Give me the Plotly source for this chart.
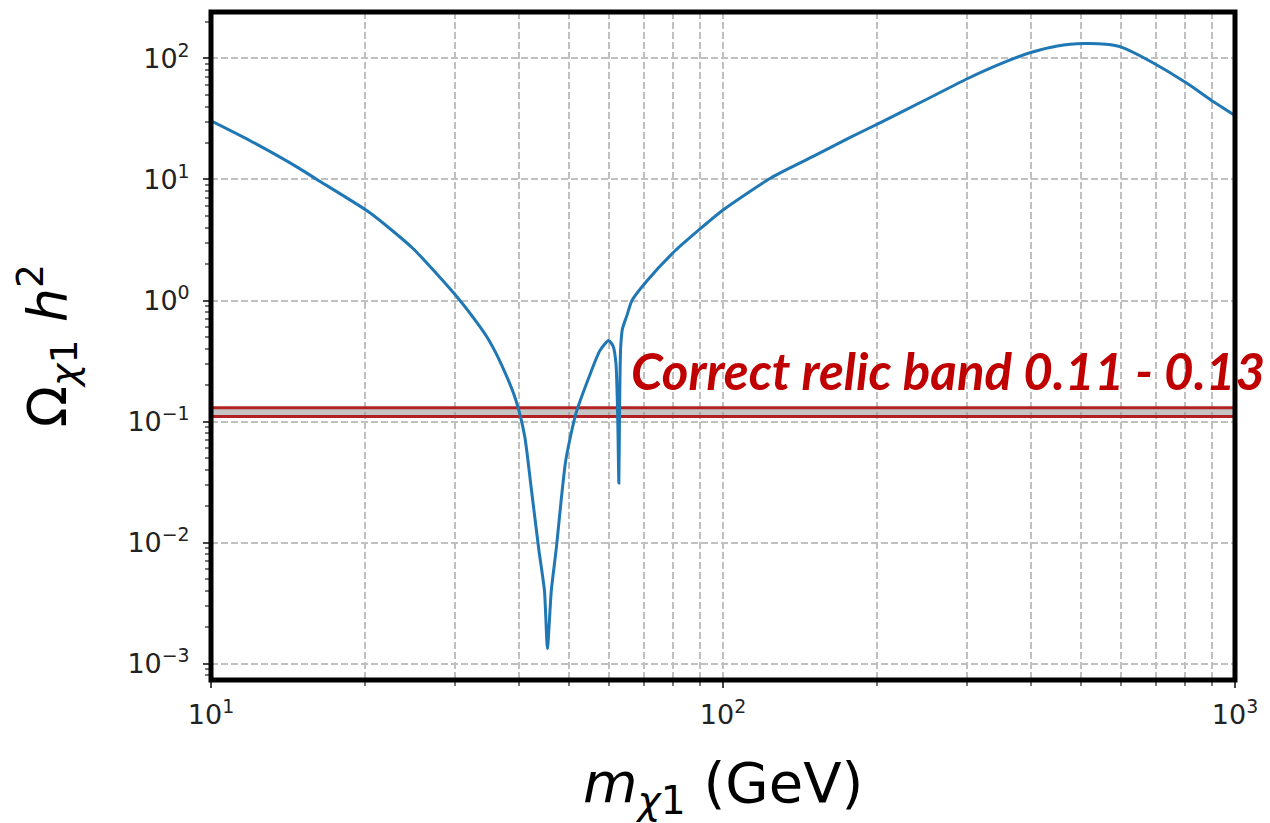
import plotly.graph_objects as go

# ---- data ----
mass_gev = [10, 11.9, 14.9, 16.1, 20.4, 24.8, 30.3, 33.4, 34.9, 37.0, 39.4, 41.0, 42.2,
            43.7, 44.8, 45.4, 46.2, 47.2, 49.3, 51.6, 54.7, 57.5, 59.8, 61.0, 61.8,
            62.3, 62.6, 62.8, 63.1, 63.6, 64.9, 66.4, 71.0, 80.8, 90.8, 100, 124, 150,
            176, 203, 250, 300, 350, 399, 450, 508, 560, 600, 705, 807, 900, 1000]
omega_h2 = [30.5, 21, 12.3, 10, 5.33, 2.69, 1.06, 0.62, 0.47, 0.29, 0.15, 0.075, 0.0285,
            0.0086, 0.004, 0.00133, 0.004, 0.0086, 0.0476, 0.116, 0.231, 0.386, 0.467, 0.42, 0.3,
            0.1, 0.031, 0.12, 0.4, 0.58, 0.75, 1.0, 1.45, 2.6, 4.0, 5.6, 10.3, 15.5,
            22, 29.5, 46, 68, 91, 112, 127, 133, 131, 124, 88, 62, 45, 33.8]

band_low = 0.11
band_high = 0.13
band_x = [10, 1000]

x_tickvals = [10, 100, 1000]
x_ticktext = ["10<sup>1</sup>", "10<sup>2</sup>", "10<sup>3</sup>"]
y_tickvals = [1e-3, 1e-2, 1e-1, 1e0, 1e1, 1e2]
y_ticktext = ["10<sup>\u22123</sup>", "10<sup>\u22122</sup>", "10<sup>\u22121</sup>",
              "10<sup>0</sup>", "10<sup>1</sup>", "10<sup>2</sup>"]
x_minor = [d * 10 ** e for e in (1, 2) for d in range(2, 10)]
y_minor = [d * 10 ** e for e in (-4, -3, -2, -1, 0, 1, 2) for d in range(2, 10)]

fig = go.Figure()

# relic band
fig.add_trace(go.Scatter(x=band_x, y=[band_low, band_low], mode="lines",
                         line=dict(color="rgba(0,0,0,0)", width=0), showlegend=False,
                         hoverinfo="skip"))
fig.add_trace(go.Scatter(x=band_x, y=[band_high, band_high], mode="lines",
                         line=dict(color="rgba(0,0,0,0)", width=0), fill="tonexty",
                         fillcolor="rgba(150,150,150,0.55)", showlegend=False,
                         hoverinfo="skip"))
fig.add_trace(go.Scatter(x=band_x, y=[band_low, band_low], mode="lines",
                         line=dict(color="#b22222", width=3), showlegend=False))
fig.add_trace(go.Scatter(x=band_x, y=[band_high, band_high], mode="lines",
                         line=dict(color="#b22222", width=3), showlegend=False))

# relic density curve
fig.add_trace(go.Scatter(x=mass_gev, y=omega_h2, mode="lines",
                         line=dict(color="#1f77b4", width=3, shape="spline", smoothing=0.6),
                         showlegend=False))

grid_col = "#c0c0c0"
fig.update_xaxes(type="log", range=[1, 3], tickvals=x_tickvals, ticktext=x_ticktext,
                 ticks="outside", ticklen=7, tickwidth=2, tickcolor="#444",
                 showgrid=True, gridcolor=grid_col, griddash="7px,3px", gridwidth=2,
                 zeroline=False, showline=False, ticklabelstandoff=4,
                 tickfont=dict(family="DejaVu Sans", size=27, color="#222"),
                 minor=dict(tickvals=x_minor, ticks="outside", ticklen=5, tickwidth=1.5,
                            tickcolor="#777", showgrid=True, gridcolor=grid_col,
                            griddash="7px,3px", gridwidth=2))
fig.update_yaxes(type="log", range=[-3.136, 2.384], tickvals=y_tickvals, ticktext=y_ticktext,
                 ticks="outside", ticklen=7, tickwidth=2, tickcolor="#444",
                 showgrid=True, gridcolor=grid_col, griddash="7px,3px", gridwidth=2,
                 zeroline=False, showline=False, ticklabelstandoff=8,
                 tickfont=dict(family="DejaVu Sans", size=27, color="#222"),
                 minor=dict(tickvals=y_minor, ticks="outside", ticklen=5, tickwidth=1.5,
                            tickcolor="#777", showgrid=False))

fig.add_shape(type="rect", xref="paper", yref="paper", x0=0, y0=0, x1=1, y1=1,
              line=dict(color="black", width=5), layer="above")

fig.add_annotation(text="Correct relic band 0.11 - 0.13", xref="paper", yref="paper",
                   x=0.408, y=0.463, xanchor="left", yanchor="middle", showarrow=False,
                   font=dict(family="Lato", size=51, color="#c00000", weight="bold",
                             style="italic"))
fig.add_annotation(text="<i>m</i><sub><i>\u03c7</i>1</sub> (GeV)", xref="paper", yref="paper",
                   x=0.5, y=-0.16, xanchor="center", yanchor="middle", showarrow=False,
                   font=dict(family="DejaVu Sans", size=56, color="black"))
fig.add_annotation(text="\u03a9<sub><i>\u03c7</i>1</sub> <i>h</i><sup>2</sup>", xref="paper",
                   yref="paper", x=-0.16, y=0.5, xanchor="center", yanchor="middle",
                   textangle=-90, showarrow=False,
                   font=dict(family="DejaVu Sans", size=54, color="black"))

fig.update_layout(width=1270, height=823, margin=dict(l=211, r=32, t=12, b=143),
                  paper_bgcolor="white", plot_bgcolor="white")

fig.write_html("out.html")
